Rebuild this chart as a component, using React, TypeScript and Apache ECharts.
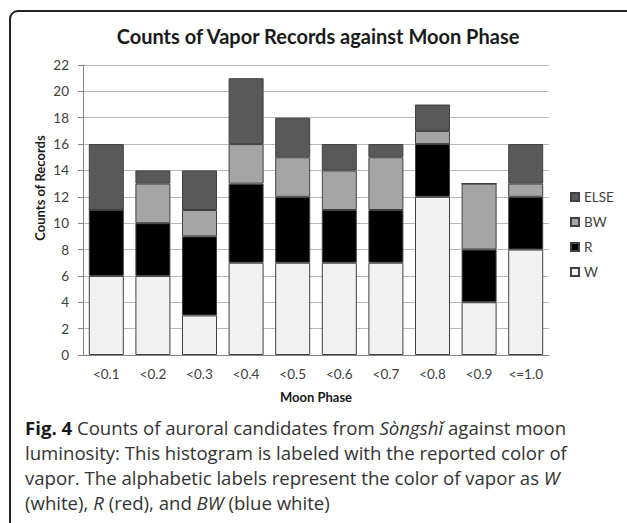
import React, { useEffect, useRef } from "react";
import * as echarts from "echarts";

const categories = ["<0.1", "<0.2", "<0.3", "<0.4", "<0.5", "<0.6", "<0.7", "<0.8", "<0.9", "<=1.0"];
const seriesW = [6, 6, 3, 7, 7, 7, 7, 12, 4, 8];
const seriesR = [5, 4, 6, 6, 5, 4, 4, 4, 4, 4];
const seriesBW = [0, 3, 2, 3, 3, 3, 4, 1, 5, 1];
const seriesELSE = [5, 1, 3, 5, 3, 2, 1, 2, 0, 3];
const yTicks = { min: 0, max: 22, interval: 2 };

const titleText = "Counts of Vapor Records against Moon Phase";
const yName = "Counts of Records";
const xName = "Moon Phase";
const captionText =
  "{b|Fig. 4} Counts of auroral candidates from {i|Sòngshǐ} against moon\n" +
  "luminosity: This histogram is labeled with the reported color of\n" +
  "vapor. The alphabetic labels represent the color of vapor as {i|W}\n" +
  "(white), {i|R} (red), and {i|BW} (blue white)";

export default function App() {
  const ref = useRef<HTMLDivElement>(null);
  useEffect(() => {
    document.body.style.margin = "0";
    const chart = echarts.init(ref.current!, null, { renderer: "svg" });
    const border = "#404040";
    const mk = (name: string, data: number[], color: string) => ({
      name,
      type: "bar",
      stack: "total",
      data,
      barWidth: 35,
      itemStyle: { color, borderColor: border, borderWidth: 1 },
    });
    const font = "Lato, 'Open Sans', sans-serif";
    const capFont = "'Open Sans', sans-serif";
    const capSize = 18.6;
    chart.setOption({
      animation: false,
      backgroundColor: "#ffffff",
      grid: { left: 83, right: 78, top: 65, bottom: 168 },
      legend: {
        orient: "vertical",
        left: 570,
        top: 190,
        padding: 0,
        data: ["ELSE", "BW", "R", "W"],
        icon: "rect",
        itemWidth: 8,
        itemHeight: 8,
        itemGap: 11,
        textStyle: { fontFamily: font, fontSize: 13.5, color: "#404040", lineHeight: 14 },
      },
      xAxis: {
        type: "category",
        data: categories,
        axisLine: { lineStyle: { color: "#868686" } },
        axisTick: { show: false },
        axisLabel: { fontFamily: font, fontSize: 13.5, color: "#404040", margin: 12 },
      },
      yAxis: {
        type: "value",
        min: yTicks.min,
        max: yTicks.max,
        interval: yTicks.interval,
        axisLine: { show: true, lineStyle: { color: "#868686" } },
        axisTick: { show: true, length: 5, lineStyle: { color: "#868686" } },
        axisLabel: { fontFamily: font, fontSize: 13.5, color: "#404040", margin: 14 },
        splitLine: { lineStyle: { color: "#b8b8b8" } },
      },
      series: [
        mk("W", seriesW, "#f2f2f2"),
        mk("R", seriesR, "#000000"),
        mk("BW", seriesBW, "#a5a5a5"),
        mk("ELSE", seriesELSE, "#595959"),
      ],
      graphic: [
        {
          type: "rect",
          shape: { x: 10, y: 11, width: 700, height: 600, r: [8, 0, 0, 0] },
          style: { fill: "none", stroke: "#222222", lineWidth: 2 },
          silent: true,
        },
        {
          type: "text",
          x: 318,
          y: 36,
          style: {
            text: titleText,
            font: "bold 20px Lato, sans-serif",
            fill: "#1a1a1a",
            textAlign: "center",
            textVerticalAlign: "middle",
          },
        },
        {
          type: "text",
          x: 40,
          y: 188,
          rotation: Math.PI / 2,
          style: {
            text: yName,
            font: "bold 13px Lato, sans-serif",
            fill: "#1a1a1a",
            textAlign: "center",
            textVerticalAlign: "middle",
          },
        },
        {
          type: "text",
          x: 316,
          y: 397,
          style: {
            text: xName,
            font: "bold 13px Lato, sans-serif",
            fill: "#1a1a1a",
            textAlign: "center",
            textVerticalAlign: "middle",
          },
        },
        {
          type: "text",
          x: 25,
          y: 415,
          style: {
            text: captionText,
            fontFamily: capFont,
            fontSize: capSize,
            lineHeight: 25,
            fill: "#333333",
            rich: {
              b: { fontFamily: capFont, fontSize: capSize, fontWeight: "bold", fill: "#1a1a1a", lineHeight: 25 },
              i: { fontFamily: capFont, fontSize: capSize, fontStyle: "italic", fill: "#333333", lineHeight: 25 },
            },
          },
        },
      ],
    });
    return () => chart.dispose();
  }, []);
  return <div ref={ref} style={{ width: 627, height: 523 }} />;
}
